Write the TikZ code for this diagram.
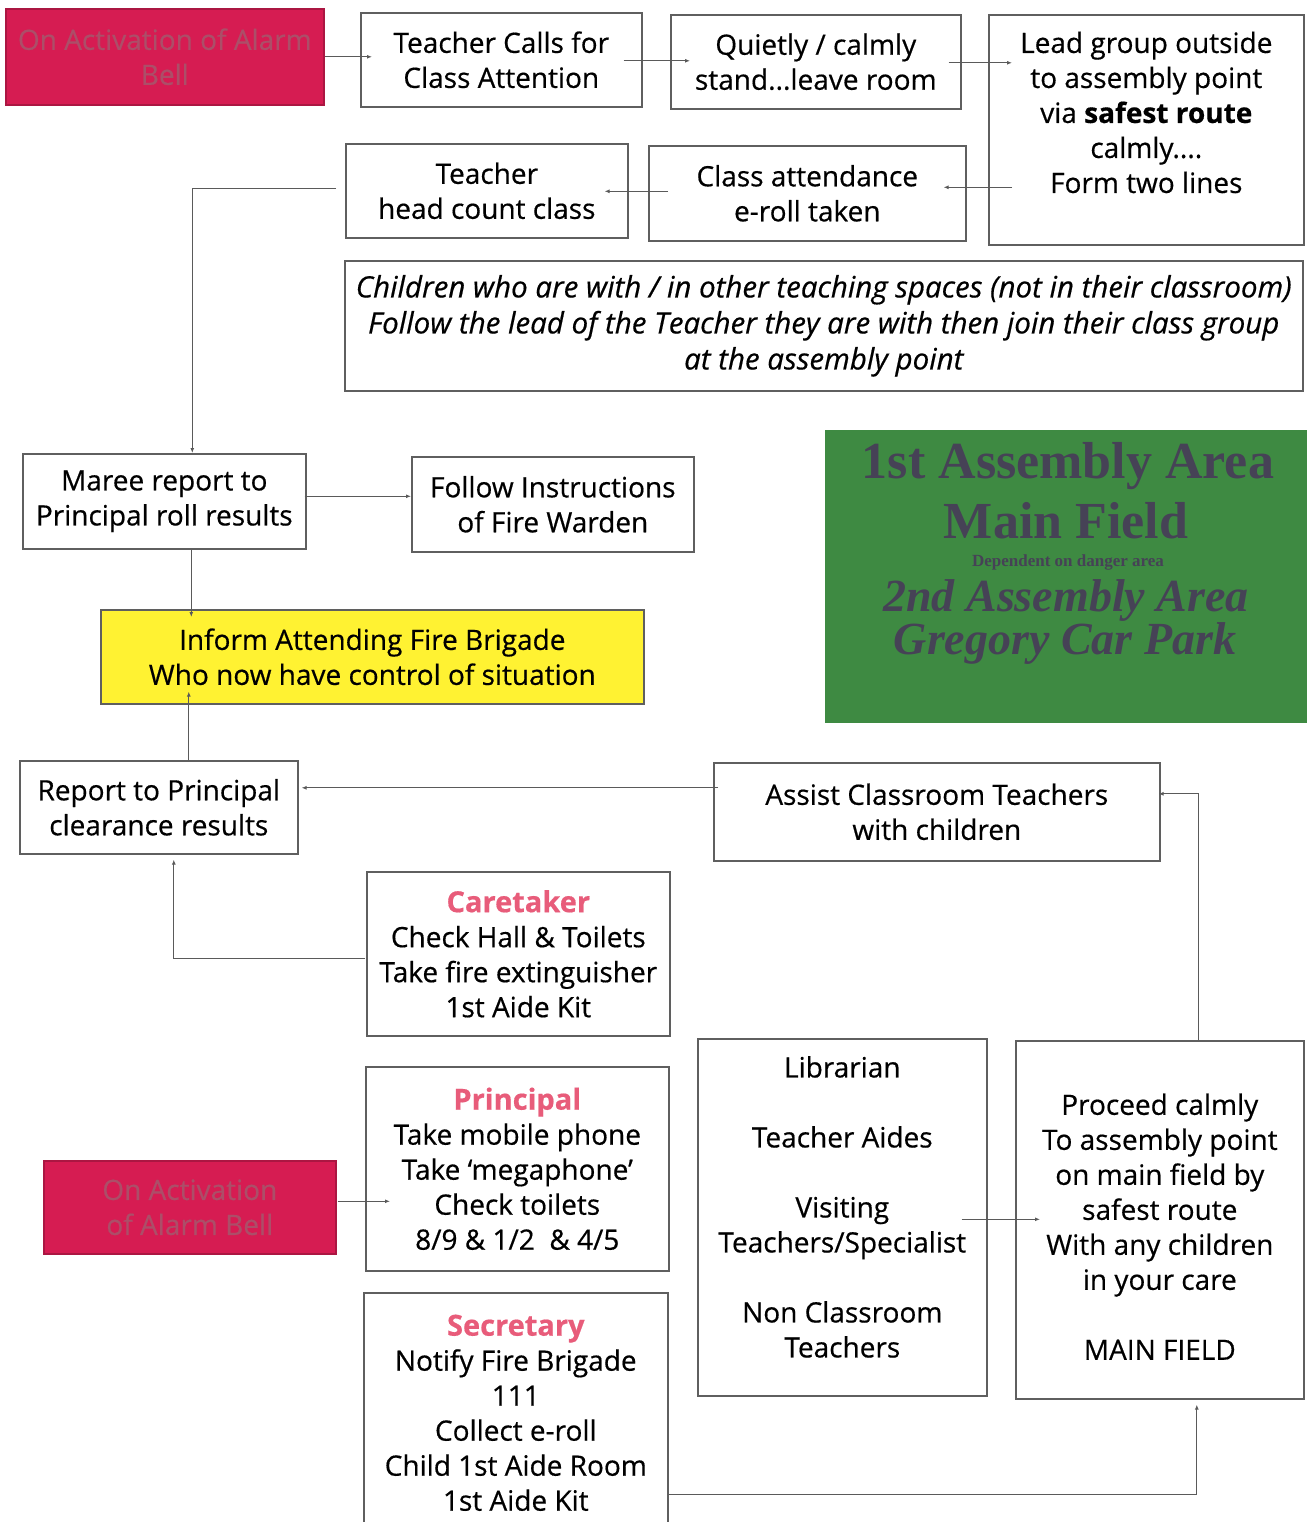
\documentclass[tikz,border=0pt]{standalone}
\usepackage{fontspec}
\setmainfont{Open Sans}[FakeBold=0.5]
\newfontfamily\greenserif{Liberation Serif}
\usetikzlibrary{calc,arrows.meta}
\definecolor{alarmred}{RGB}{214,28,82}
\definecolor{alarmtext}{RGB}{172,78,104}
\definecolor{fieldgreen}{RGB}{62,138,66}
\definecolor{fieldtext}{RGB}{70,66,86}
\definecolor{warnyellow}{RGB}{255,242,50}
\definecolor{rolepink}{RGB}{232,92,122}
\definecolor{boxgray}{RGB}{95,95,95}
\definecolor{linegray}{RGB}{90,90,90}
\newcommand{\rolehead}[1]{\textcolor{rolepink}{\bfseries\fontsize{29}{35}\selectfont #1}}
\begin{document}
\begin{tikzpicture}[x=1pt,y=-1pt,
  box/.style={draw=boxgray, line width=1.6pt, fill=white, inner sep=0pt, align=center,
    anchor=north west, font=\fontsize{28}{35}\selectfont, text=black},
  redbox/.style={box, fill=alarmred, draw=alarmred!80!black, text=alarmtext},
  arr/.style={draw=linegray, line width=1.1pt, -{Latex[length=5pt,width=4pt]}},
  gtext/.style={text=fieldtext, inner sep=0pt, anchor=center}
]
\useasboundingbox (0,0) rectangle (1307,1522);

% nodes
\node[redbox, minimum width=318pt, minimum height=96pt] (red1) at (5,8) {On Activation of Alarm\\Bell};
\node[box, minimum width=281pt, minimum height=94pt] (tc) at (360,12) {Teacher Calls for\\Class Attention};
\node[box, minimum width=290pt, minimum height=94pt] (q) at (670,14) {Quietly / calmly\\stand...leave room};
\node[box, minimum width=315pt, minimum height=230pt] (lead) at (988,14) {Lead group outside\\to assembly point\\via \textbf{safest route}\\calmly....\\Form two lines\\ \mbox{}};
\node[box, minimum width=282pt, minimum height=94pt] (hc) at (345,143) {Teacher\\head count class};
\node[box, minimum width=317pt, minimum height=95pt] (ca) at (648,145) {Class attendance\\e-roll taken};
\node[box, minimum width=958pt, minimum height=130pt, font=\itshape\fontsize{29.5}{36}\selectfont] (kids) at (344,260)
  {Children who are with / in other teaching spaces (not in their classroom)\\Follow the lead of the Teacher they are with then join their class group\\at the assembly point};
\node[box, minimum width=283pt, minimum height=95pt] (maree) at (22,453) {Maree report to\\Principal roll results};
\node[box, minimum width=282pt, minimum height=95pt] (follow) at (411,456) {Follow Instructions\\of Fire Warden};

\node[fill=fieldgreen, inner sep=0pt, anchor=north west, minimum width=482pt, minimum height=293pt] (green) at (825,430) {};
\node[gtext, font=\greenserif\bfseries\fontsize{52}{52}\selectfont] (g1) at (1068,466) {1st Assembly Area};
\node[gtext, font=\greenserif\bfseries\fontsize{52}{52}\selectfont] (g2) at (1066,521) {Main Field};
\node[gtext, font=\greenserif\bfseries\fontsize{17}{17}\selectfont] (g3) at (1068,562) {Dependent on danger area};
\node[gtext, font=\greenserif\bfseries\itshape\fontsize{46}{46}\selectfont] (g4) at (1066,600) {2nd Assembly Area};
\node[gtext, font=\greenserif\bfseries\itshape\fontsize{46}{46}\selectfont] (g5) at (1065,643) {Gregory Car Park};

\node[box, fill=warnyellow, minimum width=543pt, minimum height=94pt] (yellow) at (100,609) {Inform Attending Fire Brigade\\Who now have control of situation};
\node[box, minimum width=278pt, minimum height=93pt] (report) at (19,760) {Report to Principal\\clearance results};
\node[box, minimum width=446pt, minimum height=98pt] (assist) at (713,762) {Assist Classroom Teachers\\with children};
\node[box, minimum width=303pt, minimum height=164pt] (ct) at (366,871) {\rolehead{Caretaker}\\Check Hall \& Toilets\\Take fire extinguisher\\1st Aide Kit};
\node[box, minimum width=303pt, minimum height=204pt] (pr) at (365,1066) {\rolehead{Principal}\\Take mobile phone\\Take ‘megaphone’\\Check toilets\\8/9 \& 1/2~~\& 4/5};
\node[redbox, minimum width=292pt, minimum height=93pt] (red2) at (43,1160) {On Activation\\of Alarm Bell};
\node[box, minimum width=289pt, minimum height=357pt] (lib) at (697,1038) {Librarian\\[35pt]Teacher Aides\\[35pt]Visiting\\Teachers/Specialist\\[35pt]Non Classroom\\Teachers\\[-14pt]\mbox{}};
\node[box, minimum width=288pt, minimum height=358pt] (proc) at (1015,1040) {\mbox{}\\Proceed calmly\\To assembly point\\on main field by\\safest route\\With any children\\in your care\\[35pt]MAIN FIELD};
\node[box, minimum width=304pt, minimum height=240pt] (sec) at (363,1292) {\rolehead{Secretary}\\Notify Fire Brigade\\111\\Collect e-roll\\Child 1st Aide Room\\1st Aide Kit};

% connectors
\draw[arr] (red1.east) -- ($(red1.east -| tc.west)+(12,0)$);
\draw[arr] ($(tc.east)+(-19,1)$) -- ($(tc.east -| q.west)+(20,1)$);
\draw[arr] ($(q.east)+(-13,1)$) -- ($(q.east -| lead.west)+(24,1)$);
\draw[arr] ($(ca.east -| lead.west)+(24,-6)$) -- ($(ca.east)+(-23,-6)$);
\draw[arr] ($(ca.west)+(20,-2)$) -- ($(ca.west -| hc.east)+(-24,-2)$);
\draw[arr] ($(hc.west)+(-9,-2)$) -| ($(maree.north)+(28,0)$);
\draw[arr] ($(maree.east)+(-2,-5)$) -- ($(maree.east -| follow.west)+(0,-5)$);
\draw[arr] ($(maree.south)+(27,0)$) -- ($(maree.south |- yellow.north)+(27,8)$);
\draw[arr] ($(report.north)+(30,0)$) -- ($(report.north |- yellow.south)+(30,-13)$);
\draw[arr] ($(assist.west)+(5,-24)$) -- ($(assist.west -| report.east)+(3,-24)$);
\draw[arr] ($(proc.north)+(39,0)$) |- ($(assist.east)+(-2,-18)$);
\draw[arr] ($(ct.west)+(-1,5)$) -| ($(report.south)+(15,5)$);
\draw[arr] ($(red2.east)+(1,-6)$) -- ($(red2.east -| pr.west)+(25,-6)$);
\draw[arr] ($(lib.east)+(-26,2)$) -- ($(lib.east -| proc.west)+(25,2)$);
\draw[arr] ($(sec.east)+(0,82)$) -| ($(proc.south)+(37,5)$);
\end{tikzpicture}
\end{document}
